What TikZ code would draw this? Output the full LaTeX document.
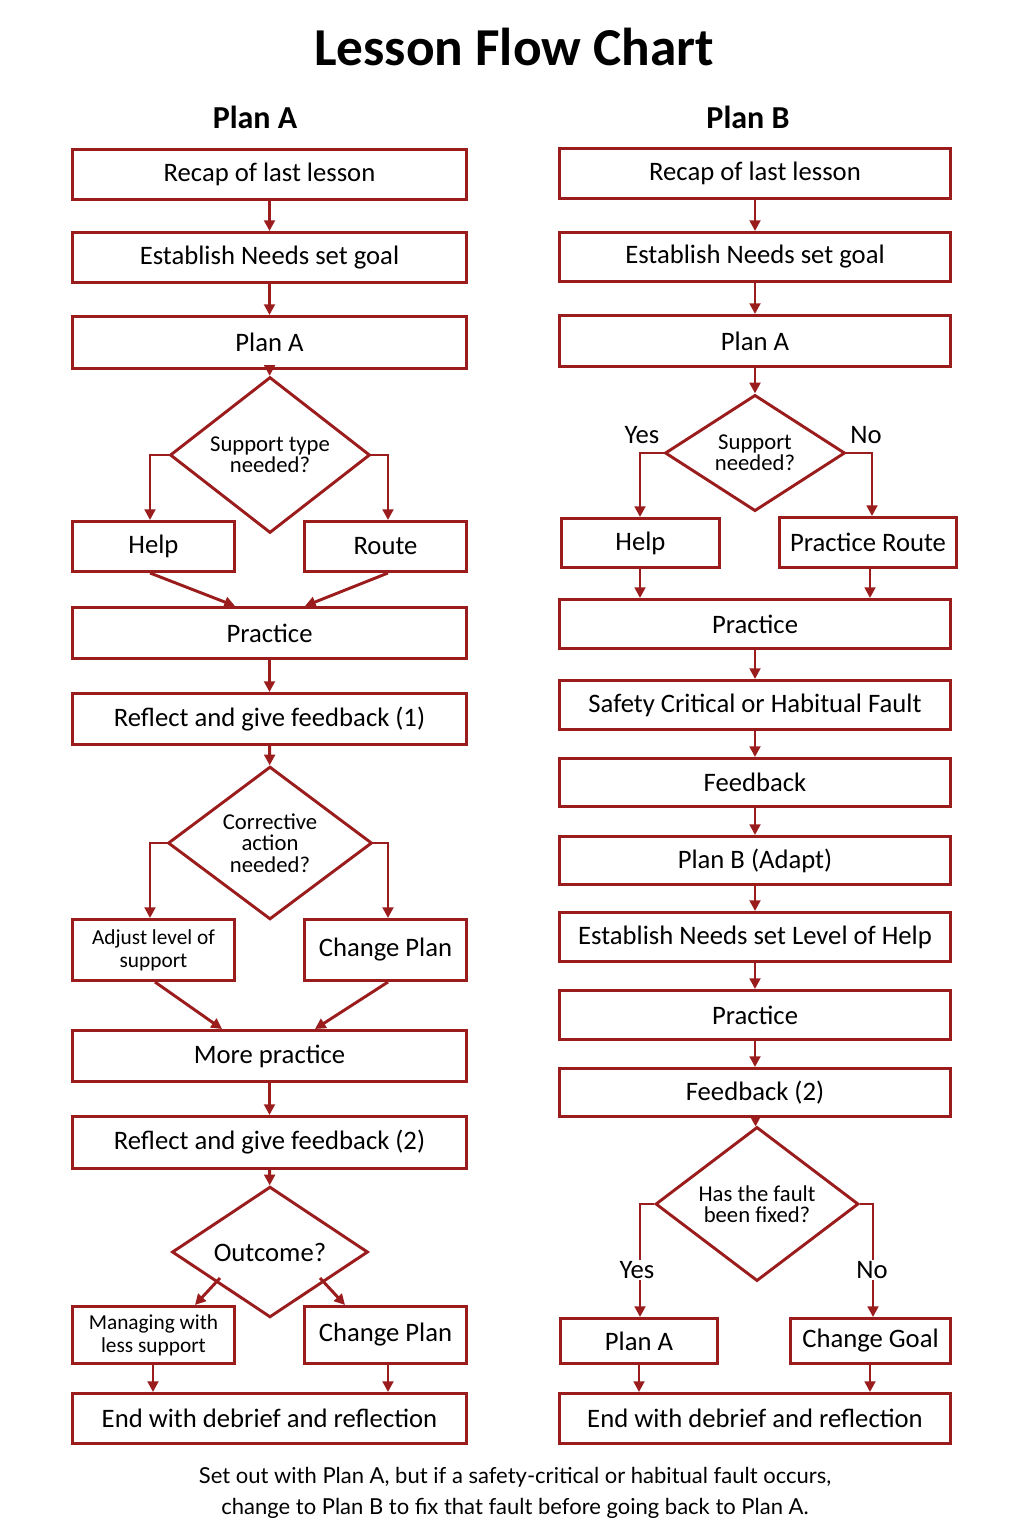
\documentclass[tikz,border=0pt]{standalone}
\usepackage{fontspec}
\setmainfont{Carlito}
\newfontfamily\footfont{Lato}
\usetikzlibrary{shapes.geometric,arrows.meta}
\definecolor{dred}{HTML}{9B1C1C}
\tikzset{
 bx/.style={draw=dred,line width=2.2pt,rectangle,inner sep=0pt,font=\fontsize{20}{22}\selectfont},
 dm/.style={draw=dred,line width=2.2pt,diamond,inner sep=0pt,align=center,font=\fontsize{17}{16}\selectfont},
 ar/.style={draw=dred,line width=2.2pt,-{Triangle[length=8pt,width=8pt]}},
 lb/.style={font=\fontsize{20}{22}\selectfont}
}
\newcommand{\bxn}[6]{\node[bx,minimum width=#3*0.75pt-2.2pt,minimum height=#4*0.75pt-2.2pt,#6] (#1) at (#2) {#5};}
\begin{document}
\begin{tikzpicture}[x=0.75pt,y=-0.75pt]
\useasboundingbox (0,0) rectangle (1028,1529);
\node[font=\bfseries\fontsize{40}{44}\selectfont] (title) at (514,47) {Lesson Flow Chart};
\node[font=\bfseries\fontsize{24}{26}\selectfont] (ha) at (255,117) {Plan A};
\node[font=\bfseries\fontsize{24}{26}\selectfont] (hb) at (748,117) {Plan B};
% Left
\bxn{a1}{269.5,174.5}{397}{53}{Recap of last lesson}{}
\bxn{a2}{269.5,257.5}{397}{53}{Establish Needs set goal}{}
\bxn{a3}{269.5,342.5}{397}{55}{Plan A}{}
\node[dm,minimum width=200*0.75pt,minimum height=110*0.75pt] (ad1) at (270,455) {Support type\\needed?};
\bxn{a4}{153.5,546.5}{165}{53}{Help}{}
\bxn{a5}{385.5,546.5}{165}{53}{Route}{}
\bxn{a6}{269.5,633}{397}{54}{Practice}{}
\bxn{a7}{269.5,719}{397}{54}{Reflect and give feedback (1)}{}
\node[dm,minimum width=204*0.75pt,minimum height=133*0.75pt] (ad2) at (270,843) {Corrective\\action\\needed?};
\bxn{a8}{153.5,950}{165}{64}{Adjust level of\\support}{align=center,font=\fontsize{16}{17}\selectfont}
\bxn{a9}{385.5,950}{165}{64}{Change Plan}{}
\bxn{a10}{269.5,1056}{397}{54}{More practice}{}
\bxn{a11}{269.5,1142.5}{397}{55}{Reflect and give feedback (2)}{}
\node[dm,minimum width=196*0.75pt,minimum height=100*0.75pt,font=\fontsize{20}{22}\selectfont] (ad3) at (270,1252) {Outcome?};
\bxn{a12}{153.5,1335}{165}{60}{Managing with\\less support}{align=center,font=\fontsize{16}{17}\selectfont}
\bxn{a13}{385.5,1335}{165}{60}{Change Plan}{}
\bxn{a14}{269.5,1418.5}{397}{53}{End with debrief and reflection}{}
\draw[ar] (a1) -- (a2);
\draw[ar] (a2) -- (a3);
\draw[ar] (a3) -- (ad1);
\draw[ar] (ad1.west) -- (150,455) -- (150,520);
\draw[ar] (ad1.east) -- (388,455) -- (388,520);
\draw[ar] (150,573) -- (235,606);
\draw[ar] (388,573) -- (305,606);
\draw[ar] (a6) -- (a7);
\draw[ar] (a7) -- (ad2);
\draw[ar] (ad2.west) -- (150,843) -- (150,918);
\draw[ar] (ad2.east) -- (388,843) -- (388,918);
\draw[ar] (155,982) -- (222,1029);
\draw[ar] (388,982) -- (315,1029);
\draw[ar] (a10) -- (a11);
\draw[ar] (a11) -- (ad3);
\draw[ar] (220,1278) -- (195,1305);
\draw[ar] (320,1278) -- (345,1305);
\draw[ar] (153,1365) -- (153,1392);
\draw[ar] (388,1365) -- (388,1392);
% Right
\bxn{b1}{755,173.5}{394}{53}{Recap of last lesson}{}
\bxn{b2}{755,257}{394}{52}{Establish Needs set goal}{}
\bxn{b3}{755,341}{394}{54}{Plan A}{}
\node[dm,minimum width=180*0.75pt,minimum height=109*0.75pt] (bd1) at (755,453) {Support\\needed?};
\node[lb] (yes1) at (642,435) {Yes};
\node[lb] (no1) at (866,435) {No};
\bxn{b4}{640.5,543}{161}{52}{Help}{}
\bxn{b5}{868,542.5}{180}{53}{Practice Route}{}
\bxn{b6}{755,624}{394}{52}{Practice}{}
\bxn{b7}{755,705}{394}{52}{Safety Critical or Habitual Fault}{}
\bxn{b8}{755,782.5}{394}{51}{Feedback}{}
\bxn{b9}{755,860.5}{394}{51}{Plan B (Adapt)}{}
\bxn{b10}{755,937}{394}{52}{Establish Needs set Level of Help}{}
\bxn{b11}{755,1015}{394}{52}{Practice}{}
\bxn{b12}{755,1092.5}{394}{51}{Feedback (2)}{}
\node[dm,minimum width=203*0.75pt,minimum height=105*0.75pt] (bd2) at (757,1204) {Has the fault\\been fixed?};
\bxn{b13}{639,1341}{160}{48}{Plan A}{}
\bxn{b14}{870.5,1341}{163}{48}{Change Goal}{}
\bxn{b15}{755,1418.5}{394}{53}{End with debrief and reflection}{}
\draw[ar] (b1) -- (b2);
\draw[ar] (b2) -- (b3);
\draw[ar] (b3) -- (bd1);
\draw[ar] (bd1.west) -- (640,453) -- (640,517);
\draw[ar] (bd1.east) -- (872,453) -- (872,516);
\draw[ar] (640,569) -- (640,598);
\draw[ar] (870,569) -- (870,598);
\draw[ar] (b6) -- (b7);
\draw[ar] (b7) -- (b8);
\draw[ar] (b8) -- (b9);
\draw[ar] (b9) -- (b10);
\draw[ar] (b10) -- (b11);
\draw[ar] (b11) -- (b12);
\draw[ar] (b12) -- (bd2);
\draw[ar] (bd2.west) -- (640,1204) -- (640,1317);
\draw[ar] (bd2.east) -- (873,1204) -- (873,1317);
\node[lb,fill=white,inner sep=1pt] (yes2) at (637,1270) {Yes};
\node[lb,fill=white,inner sep=1pt] (no2) at (872,1270) {No};
\draw[ar] (639,1365) -- (639,1392);
\draw[ar] (870,1365) -- (870,1392);
\node[font=\footfont\fontsize{16.5}{23}\selectfont,align=center] (foot) at (515,1493) {Set out with Plan A, but if a safety-critical or habitual fault occurs,\\change to Plan B to fix that fault before going back to Plan A.};
\end{tikzpicture}
\end{document}
